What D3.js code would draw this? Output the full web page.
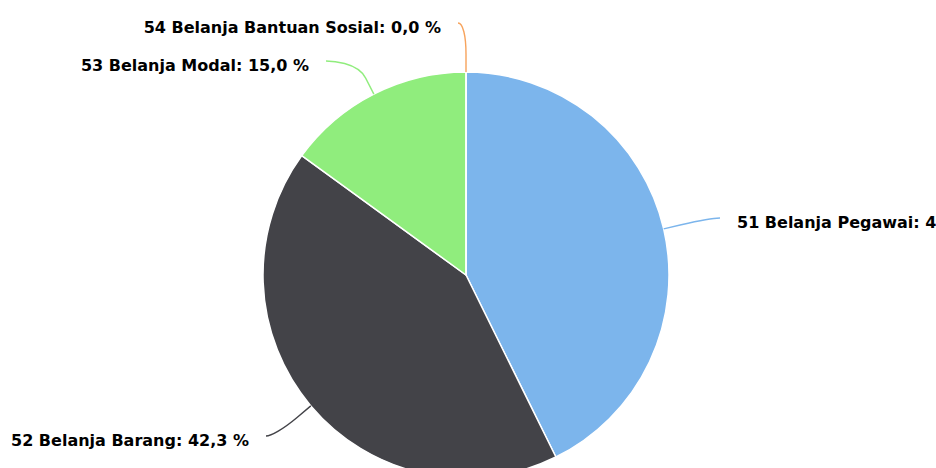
<!DOCTYPE html>
<html><head><meta charset="utf-8">
<script src="https://cdn.jsdelivr.net/npm/d3@7"></script>
<style>body{margin:0;background:#fff;overflow:hidden}</style>
</head><body>
<svg id="c" width="936" height="468"></svg>
<script>
const categories = ["51 Belanja Pegawai", "52 Belanja Barang", "53 Belanja Modal", "54 Belanja Bantuan Sosial"];
const values = [42.7, 42.3, 15.0, 0.0];
const colors = ["#7cb5ec", "#434348", "#90ed7d", "#f7a35c"];

const W = 936, H = 468, cx = 466, cy = 275, R = 203;
const svg = d3.select("#c");
const g = svg.append("g").attr("transform", `translate(${cx},${cy})`);
const data = categories.map((c, i) => ({name: c, value: values[i], color: colors[i]}));
const pie = d3.pie().sort(null).value(d => d.value)(data);
const arc = d3.arc().innerRadius(0).outerRadius(R);

g.selectAll("path.slice").data(pie).join("path")
  .attr("class", "slice")
  .attr("d", arc)
  .attr("fill", d => d.data.color)
  .attr("stroke", "#fff").attr("stroke-width", 1.5).attr("stroke-linejoin", "round");

const fmt = v => v.toFixed(1).replace(".", ",") + " %";
// label layout (Highcharts-like, with collision push)
const labelY = [222 - cy, 440 - cy, 65 - cy, 27 - cy];
const labelX = [737 - cx, 249 - cx, 309 - cx, 441 - cx];

pie.forEach((d, i) => {
  const mid = (d.startAngle + d.endAngle) / 2;
  const right = Math.sin(mid) > 0.001;
  const touch = [R * Math.sin(mid), -R * Math.cos(mid)];
  const br = R + 18;
  const brk = [br * Math.sin(mid), -br * Math.cos(mid)];
  const lx = labelX[i] + (right ? -17 : 17);
  const ly = labelY[i] - 4;
  const p = d3.path();
  p.moveTo(lx, ly);
  p.bezierCurveTo(lx + (right ? -5 : 5), ly, 2 * brk[0] - touch[0], 2 * brk[1] - touch[1], brk[0], brk[1]);
  p.lineTo(touch[0], touch[1]);
  g.append("path").attr("d", p.toString()).attr("fill", "none")
    .attr("stroke", d.data.color).attr("stroke-width", 1.4);
  g.append("text")
    .attr("x", labelX[i]).attr("y", labelY[i])
    .attr("dy", "0.35em")
    .attr("text-anchor", right ? "start" : "end")
    .style("font-family", "'DejaVu Sans', sans-serif")
    .style("font-weight", "bold").style("font-size", "16px")
    .attr("fill", "#000")
    .text(d.data.name + ": " + fmt(d.data.value));
});
</script>
</body></html>
